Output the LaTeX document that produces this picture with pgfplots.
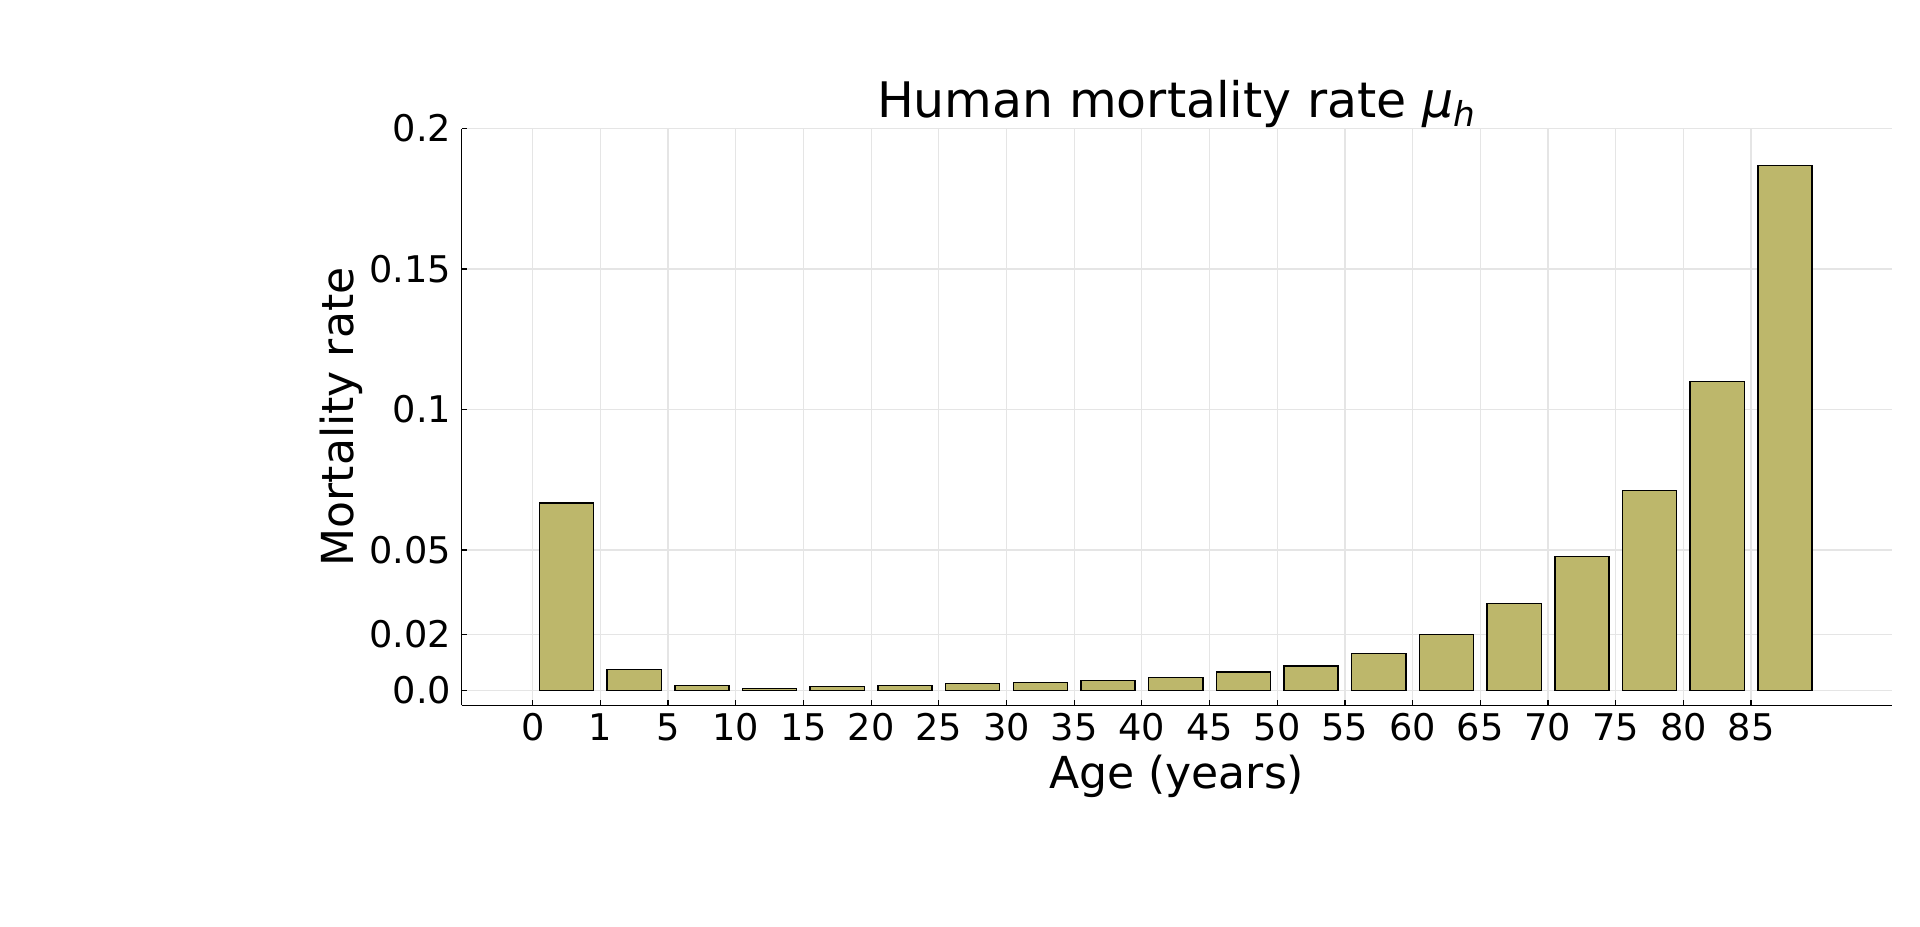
\documentclass[border=0pt]{standalone}
\usepackage{pgfplots}
\pgfplotsset{compat=1.18}
\usepackage{fontspec}
\setmainfont{DejaVu Sans}
\definecolor{khaki}{RGB}{189,183,107}
\begin{document}
\begin{tikzpicture}
\path[use as bounding box] (-188.5pt,-90.5pt) rectangle (595.5pt,288pt);
\begin{axis}[
  at={(0,0)}, anchor=south west,
  scale only axis, width=584pt, height=235.5pt,
  xmin=-1.05, xmax=20.08, ymin=-0.00523, ymax=0.2,
  axis x line=bottom, axis y line=left,
  axis line style={-, line width=0.6pt, black},
  xtick={0,...,18},
  xticklabels={0,1,5,10,15,20,25,30,35,40,45,50,55,60,65,70,75,80,85},
  ytick={0,0.02,0.05,0.1,0.15,0.2},
  yticklabels={0.0,0.02,0.05,0.1,0.15,0.2},
  tick align=inside, major tick length=2pt,
  tick style={black, line width=0.5pt},
  grid=major, grid style={black!10, line width=0.5pt},
  xticklabel style={font=\fontsize{15}{18}\selectfont, inner sep=0pt, anchor=base, yshift=-14.4pt},
  yticklabel style={font=\fontsize{15}{18}\selectfont, inner sep=0pt, anchor=east, xshift=-4pt},
  title={Human mortality rate \textit{μ}\textsubscript{\textit{h}}},
  title style={font=\fontsize{20}{24}\selectfont, inner sep=0pt, yshift=0pt, at={([yshift=-1.5pt]axis description cs:0.5,1)}, anchor=base},
  xlabel={Age (years)},
  xlabel style={font=\fontsize{18}{22}\selectfont, inner sep=0pt, at={([yshift=-34pt]axis description cs:0.5,0)}, anchor=base},
  ylabel={Mortality rate},
  ylabel style={font=\fontsize{18}{22}\selectfont, inner sep=0pt, at={([xshift=-44pt]axis description cs:0,0.5)}, anchor=base, rotate=0},
]
\addplot[ybar, bar width=0.8, fill=khaki, draw=black, line width=0.6pt] coordinates {
(0.5,0.0668) (1.5,0.0075) (2.5,0.0018) (3.5,0.0008) (4.5,0.0014)
(5.5,0.0018) (6.5,0.0025) (7.5,0.0029) (8.5,0.0036) (9.5,0.0046)
(10.5,0.0066) (11.5,0.0088) (12.5,0.0132) (13.5,0.0200) (14.5,0.0310)
(15.5,0.0477) (16.5,0.0713) (17.5,0.1100) (18.5,0.1868)
};
\end{axis}
\end{tikzpicture}
\end{document}
